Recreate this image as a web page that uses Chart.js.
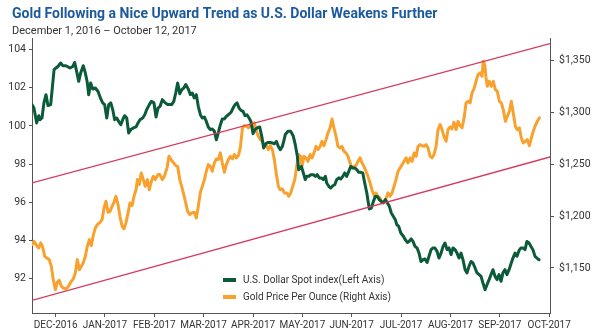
<!DOCTYPE html>
<html>
<head>
<meta charset="utf-8">
<script src="https://cdn.jsdelivr.net/npm/chart.js@4.4.0/dist/chart.umd.min.js"></script>
<style>
  html, body { margin: 0; padding: 0; background: #fff; }
  #wrap { width: 600px; height: 333px; position: relative; }
</style>
</head>
<body>
<div id="wrap"><canvas id="goldChart"></canvas></div>
<script>
// x values are days since 1 Dec 2016
const monthLabels = ['DEC-2016', 'JAN-2017', 'FEB-2017', 'MAR-2017', 'APR-2017', 'MAY-2017',
                     'JUN-2017', 'JUL-2017', 'AUG-2017', 'SEP-2017', 'OCT-2017'];
const monthTickDays = [14.7, 45.3, 75.9, 106.5, 137.2, 167.8, 198.4, 229.1, 259.7, 290.4, 321];

const usdTicks = [92, 94, 96, 98, 100, 102, 104];
const goldTicks = [1150, 1200, 1250, 1300, 1350];

// U.S. Dollar Spot index (left axis)
const usdDays = [0,1.2,2.9,4.2,5.0,6.2,7.4,8.7,9.9,11.6,13.7,14.9,16.1,17.8,19.1,20.7,21.9,23.6,25.3,26.5,
  27.7,29.0,30.2,31.8,33.1,34.3,35.2,36.4,37.7,39.3,41.0,42.7,43.9,45.1,46.4,47.6,48.9,50.1,51.3,52.6,
  53.8,55.1,56.3,57.5,58.8,60.0,61.3,62.9,64.6,65.8,67.0,68.7,70.0,71.2,72.8,74.1,75.7,77.0,78.2,79.5,
  80.9,82.4,84.2,86.7,88.0,89.2,90.4,91.7,92.9,94.2,95.4,97.0,98.3,99.5,100.7,102.0,103.2,104.5,105.7,107.0,
  108.2,109.4,110.7,111.9,113.2,114.4,115.6,116.9,118.1,119.4,120.6,121.9,123.5,124.8,126.0,127.3,128.5,129.7,131.0,132.2,
  133.4,134.7,135.9,137.2,138.4,139.7,141.3,142.6,143.8,145.1,146.3,147.9,149.2,150.4,151.7,152.9,154.1,155.4,156.6,
  157.2,158.9,160.6,162.2,163.4,164.7,165.5,166.4,167.2,168.4,169.6,170.5,171.8,173.0,174.6,175.9,177.1,178.3,179.6,180.8,
  182.1,182.9,184.2,185.4,186.7,187.9,189.1,190.4,191.6,192.9,194.1,195.3,196.6,197.8,199.1,200.3,201.6,202.8,204.0,205.3,
  206.5,207.8,208.6,209.4,210.6,211.9,213.1,214.3,215.6,216.8,218.1,219.3,220.6,221.8,223.0,224.3,225.5,226.4,227.6,228.9,
  230.5,231.7,233.0,
  234.0,235.3,236.5,237.7,239.0,240.2,241.4,242.7,243.9,245.2,246.4,247.7,248.9,250.1,251.4,252.6,253.9,255.1,256.3,257.6,
  258.8,260.1,261.3,262.6,263.8,265.0,266.3,267.5,268.8,270.0,271.2,272.5,273.7,275.0,276.2,277.5,278.7,279.9,281.2,282.4,
  283.7,284.9,286.1,287.4,288.6,289.9,291.1,292.3,293.6,294.8,296.1,297.3,298.5,299.8,301.0,302.3,303.5,304.7,306.0,307.2,
  308.5,309.7,310.9,312.2,313.4,314.7];
const usdIndex = [101.12,100.94,100.16,100.54,100.33,100.42,101.21,101.64,101.07,101.12,102.95,103.04,103.12,103.30,103.16,103.16,103.12,103.04,103.12,103.33,
  102.86,102.34,102.78,103.16,102.78,102.29,101.64,102.25,101.94,101.99,101.81,101.42,101.21,101.12,100.42,101.12,101.21,100.86,100.33,100.42,
  100.24,100.07,100.33,100.54,100.42,99.63,99.81,99.90,99.95,100.16,100.33,100.42,100.59,100.86,101.12,101.29,101.21,100.47,100.94,101.03,
  101.38,101.24,101.12,101.12,101.29,101.73,102.25,101.69,101.90,101.99,102.17,101.94,101.64,101.73,101.47,101.64,101.03,100.59,100.42,100.47,
  100.24,99.95,99.81,99.84,99.72,99.28,99.63,100.07,100.37,100.37,100.50,100.59,100.71,100.94,101.12,101.21,100.94,100.82,100.77,100.54,
  100.59,100.42,100.24,99.60,99.81,99.90,99.95,99.46,98.85,99.07,99.14,99.14,99.11,99.07,99.19,98.93,98.76,98.93,99.32,
  99.55,99.72,99.72,99.46,99.02,98.41,97.71,97.80,97.88,97.54,97.19,97.36,97.36,97.45,97.45,97.36,97.45,97.28,97.28,97.19,
  97.36,97.01,96.84,96.75,96.87,96.92,97.19,97.28,97.22,97.36,97.54,97.36,97.62,97.88,97.80,97.80,97.71,97.57,97.57,97.54,
  97.01,96.49,96.05,95.65,95.70,96.05,96.31,96.31,96.14,96.05,95.97,96.14,95.97,95.79,95.44,95.26,95.09,94.83,94.74,94.39,
  94.22,94.04,93.90,
  93.95,94.08,93.95,93.69,93.61,93.34,92.90,92.99,93.03,92.85,93.17,93.52,93.61,93.61,93.43,93.08,93.34,93.69,93.87,93.52,
  93.61,93.26,93.61,93.52,93.34,93.08,93.34,92.99,92.47,92.30,92.64,92.90,92.82,92.56,92.30,92.21,92.12,91.77,91.42,91.68,
  91.95,92.21,92.47,92.12,91.95,92.21,91.86,92.30,92.47,92.21,92.47,92.78,93.08,93.34,93.17,93.48,93.61,93.61,93.52,93.95,
  93.87,93.69,93.52,93.17,93.08,92.99];

// Gold price per ounce, USD (right axis)
const goldDays = [0,1.2,2.9,4.2,5.4,6.6,7.9,9.1,10.7,12.0,13.2,14.5,15.7,16.9,18.2,19.4,20.7,21.9,23.2,24.4,
  25.6,26.9,28.1,29.4,30.6,31.8,33.1,34.3,35.6,36.8,38.1,39.3,40.5,42.2,43.5,44.7,45.9,47.2,48.4,49.7,
  50.9,52.1,53.4,54.6,55.9,57.1,58.3,59.6,60.8,62.1,63.3,64.6,65.4,66.6,67.8,69.1,70.3,71.6,72.8,74.1,
  75.3,76.5,78.2,
  79.3,80.9,82.1,83.8,85.0,86.3,87.9,89.2,90.4,91.7,92.9,94.2,95.4,96.6,97.9,99.1,100.7,102.0,103.2,104.5,
  105.7,107.0,108.2,109.4,110.7,111.9,113.2,114.4,115.6,116.9,118.1,119.4,120.6,121.9,123.1,124.4,125.6,126.8,128.1,129.3,
  130.6,131.8,133.0,134.3,135.5,136.8,138.0,139.3,140.5,141.7,143.0,144.2,145.5,146.7,147.9,149.2,150.4,151.7,152.9,154.1,
  155.4,156.6,
  158.1,159.3,160.6,161.8,163.1,164.3,165.5,166.8,167.6,168.8,170.1,171.3,172.6,173.8,175.0,176.3,177.5,178.8,180.0,181.2,
  182.5,183.7,185.0,186.2,187.4,188.7,189.9,191.2,192.4,193.6,194.9,196.1,197.4,198.6,199.8,201.1,202.3,203.6,204.8,206.0,
  207.3,208.5,209.8,211.0,212.3,213.5,214.7,216.0,217.2,218.5,219.7,220.9,222.2,223.5,224.7,225.9,227.2,228.4,229.7,230.9,
  232.2,
  233.4,234.7,235.9,237.2,238.4,239.6,240.9,242.1,243.3,244.6,245.8,247.1,248.3,249.5,250.8,252.0,253.3,254.5,255.7,257.0,
  258.2,259.5,260.7,261.9,263.2,264.4,265.7,266.9,268.2,269.4,270.6,271.9,273.1,274.3,275.6,276.8,278.1,279.3,280.1,281.0,
  281.8,282.6,283.8,285.1,286.3,287.6,288.8,290.1,291.3,292.5,293.8,295.0,296.3,297.5,298.7,300.0,301.2,302.5,303.7,304.9,
  306.2,307.4,308.7,309.9,311.1,312.4,313.6,314.9];
const goldPrice = [1172.4,1175.6,1171.5,1169.3,1174.1,1170.2,1161.2,1159.6,1158.0,1151.5,1138.7,1129.1,1136.1,1138.1,1132.3,1130.7,1129.8,1130.7,1133.9,1137.1,
  1139.4,1145.2,1158.0,1148.4,1151.5,1154.8,1161.2,1170.8,1177.3,1171.5,1182.1,1188.5,1191.7,1193.9,1196.5,1207.8,1214.2,1203.6,1204.5,1209.3,
  1213.2,1219.0,1211.0,1199.7,1190.1,1187.6,1193.4,1203.0,1212.6,1210.0,1219.0,1225.4,1235.1,1230.3,1241.5,1235.1,1228.6,1235.1,1225.4,1233.4,
  1238.2,1235.1,1239.9,
  1239.9,1235.1,1238.2,1246.3,1257.5,1254.3,1251.2,1248.6,1247.9,1235.1,1228.6,1220.6,1212.6,1204.5,1201.3,1203.0,1203.6,1198.2,1209.3,1222.8,
  1228.6,1235.1,1243.1,1249.5,1247.9,1243.1,1251.2,1255.0,1254.3,1260.8,1251.2,1242.1,1249.5,1254.3,1257.5,1255.0,1259.2,1256.0,1258.2,1265.6,
  1284.9,1287.1,1286.4,1284.9,1288.1,1284.9,1289.7,1281.6,1276.8,1273.6,1272.0,1267.1,1267.8,1264.0,1267.8,1264.0,1254.3,1239.9,1228.6,1225.4,
  1226.1,1222.3,
  1222.3,1219.0,1222.3,1228.6,1235.1,1247.9,1259.2,1257.5,1247.9,1257.5,1256.0,1252.7,1259.2,1256.0,1260.8,1267.1,1264.0,1267.1,1272.0,1267.8,
  1273.6,1280.1,1284.9,1293.5,1284.9,1276.8,1267.1,1265.6,1267.1,1262.3,1260.8,1257.5,1251.2,1246.3,1247.9,1248.6,1252.7,1256.0,1251.2,1247.9,
  1243.1,1238.2,1231.9,1225.4,1219.7,1222.3,1219.0,1217.4,1212.6,1214.2,1216.5,1222.3,1219.0,1222.3,1228.6,1235.1,1243.1,1246.3,1249.5,1252.7,
  1256.0,
  1251.2,1256.0,1252.7,1260.8,1257.5,1267.1,1268.8,1267.8,1267.1,1268.8,1265.6,1257.5,1256.0,1259.2,1267.1,1283.2,1288.1,1283.2,1276.8,1272.0,
  1283.2,1285.8,1283.9,1290.3,1283.2,1291.2,1287.1,1284.9,1294.5,1309.0,1310.5,1309.0,1318.6,1322.4,1329.8,1336.2,1337.9,1334.6,1349.0,1345.9,
  1333.0,1325.0,1329.8,1325.0,1329.8,1321.8,1320.1,1310.5,1309.0,1302.5,1291.2,1296.0,1300.9,1310.5,1299.3,1286.4,1283.2,1284.9,1275.2,1270.4,
  1272.0,1273.6,1267.8,1275.2,1281.6,1287.1,1291.2,1294.5];

// gold trend channel, end points in $/oz
const channelDays = [0, 321.5];
const channelUpper = [1231.9, 1366.1];
const channelLower = [1118.8, 1256.9];

const GREEN = '#0b5a39';
const ORANGE = '#f9a12e';
const RED = '#d8395c';
const AXIS = '#555555';
const TEXT = '#333333';

const toPoints = (xs, ys) => xs.map((x, i) => ({ x: x, y: ys[i] }));

// the page padding only indents the titles; let the left axis labels use that strip
const widenLeftAxis = {
    id: 'widenLeftAxis',
    afterLayout(chart) {
        chart.scales.yUsd.left = 0;
    }
};

// small legend drawn inside the plot, below the lines
const insideLegend = {
    id: 'insideLegend',
    afterDraw(chart) {
        const ctx = chart.ctx;
        const items = [
            { ds: chart.data.datasets[2], y: 280 },
            { ds: chart.data.datasets[3], y: 297 }
        ];
        ctx.save();
        ctx.font = '10px Roboto';
        ctx.textBaseline = 'middle';
        items.forEach(item => {
            ctx.strokeStyle = item.ds.borderColor;
            ctx.lineWidth = 4;
            ctx.beginPath();
            ctx.moveTo(223, item.y);
            ctx.lineTo(236, item.y);
            ctx.stroke();
            ctx.fillStyle = TEXT;
            ctx.fillText(item.ds.label, 243, item.y);
        });
        ctx.restore();
    }
};

const ctx = document.getElementById('goldChart').getContext('2d');
new Chart(ctx, {
    type: 'line',
    data: {
        datasets: [
            { label: 'upper', data: toPoints(channelDays, channelUpper), yAxisID: 'yGold',
              borderColor: RED, borderWidth: 1.3 },
            { label: 'lower', data: toPoints(channelDays, channelLower), yAxisID: 'yGold',
              borderColor: RED, borderWidth: 1.3 },
            { label: 'U.S. Dollar Spot index(Left Axis)', data: toPoints(usdDays, usdIndex), yAxisID: 'yUsd',
              borderColor: GREEN, borderWidth: 3 },
            { label: 'Gold Price Per Ounce (Right Axis)', data: toPoints(goldDays, goldPrice), yAxisID: 'yGold',
              borderColor: ORANGE, borderWidth: 3 }
        ]
    },
    options: {
        responsive: true,
        maintainAspectRatio: false,
        animation: false,
        layout: { padding: { left: 12, right: 0, top: 0, bottom: 0 } },
        elements: {
            point: { radius: 0 },
            line: { tension: 0, borderCapStyle: 'round', borderJoinStyle: 'round' }
        },
        scales: {
            x: {
                type: 'linear',
                min: 0,
                max: 321.5,
                afterFit: s => { s.height = 20; },
                afterBuildTicks: s => { s.ticks = monthTickDays.map(v => ({ value: v })); },
                grid: { drawOnChartArea: false, drawTicks: true, tickLength: 4, color: AXIS },
                border: { display: true, color: AXIS, width: 1 },
                ticks: {
                    autoSkip: false, maxRotation: 0, padding: 2,
                    color: TEXT, font: { family: 'Roboto', size: 10 },
                    callback: (v, i) => monthLabels[i]
                }
            },
            yUsd: {
                type: 'linear',
                position: 'left',
                min: 90.2,
                max: 104.58,
                afterFit: s => { s.width = 20; },
                afterBuildTicks: s => { s.ticks = usdTicks.map(v => ({ value: v })); },
                grid: { drawOnChartArea: false, drawTicks: true, tickLength: 3, color: AXIS },
                border: { display: true, color: AXIS, width: 1 },
                ticks: { padding: 3, color: TEXT, font: { family: 'Roboto', size: 10.5 } }
            },
            yGold: {
                type: 'linear',
                position: 'right',
                min: 1106.6,
                max: 1370.9,
                afterFit: s => { s.width = 50; },
                afterBuildTicks: s => { s.ticks = goldTicks.map(v => ({ value: v })); },
                grid: { drawOnChartArea: false, drawTicks: true, tickLength: 4, color: AXIS },
                border: { display: true, color: AXIS, width: 1 },
                ticks: {
                    padding: 5, color: TEXT, font: { family: 'Roboto', size: 10.5 },
                    callback: v => '$' + v.toLocaleString('en-US')
                }
            }
        },
        plugins: {
            legend: { display: false },
            tooltip: { enabled: false },
            title: {
                display: true,
                text: 'Gold Following a Nice Upward Trend as U.S. Dollar Weakens Further',
                align: 'start',
                color: '#1c5a9c',
                font: { family: 'Roboto', size: 14, weight: 'bold', lineHeight: 1.2 },
                padding: { top: 6, bottom: 0 }
            },
            subtitle: {
                display: true,
                text: 'December 1, 2016 \u2013 October 12, 2017',
                align: 'start',
                color: TEXT,
                font: { family: 'Roboto', size: 11, lineHeight: 1.2 },
                padding: { top: 2, bottom: 0.6 }
            }
        }
    },
    plugins: [widenLeftAxis, insideLegend]
});
</script>
</body>
</html>
